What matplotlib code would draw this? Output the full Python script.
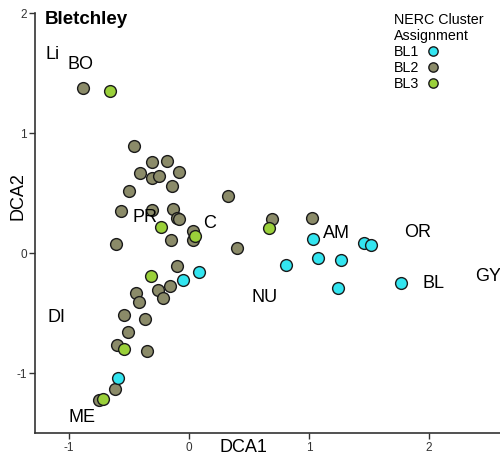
import matplotlib
matplotlib.use("Agg")
import matplotlib.pyplot as plt

plt.rcParams["font.family"] = ["Liberation Sans", "DejaVu Sans"]

# DCA site scores per NERC cluster
bl1_x = [-0.589, -0.053, 0.086, 0.806, 1.031, 1.075, 1.267, 1.242, 1.456, 1.517, 1.764]
bl1_y = [-1.039, -0.222, -0.156, -0.100, 0.114, -0.044, -0.061, -0.292, 0.086, 0.067, -0.250]

bl2_x = [-0.881, -0.456, -0.308, -0.181, -0.408, -0.311, -0.250, -0.086, -0.139, -0.497,
         0.328, -0.569, -0.308, -0.136, -0.103, -0.083, 0.031, -0.153, 0.031, -0.611,
         0.400, -0.103, -0.161, -0.258, -0.214, -0.442, -0.417, -0.539, -0.367, -0.511,
         -0.600, -0.350, -0.619, -0.750, 0.694, 1.025]
bl2_y = [1.375, 0.894, 0.756, 0.769, 0.669, 0.625, 0.639, 0.675, 0.558, 0.514,
         0.478, 0.350, 0.358, 0.367, 0.289, 0.283, 0.181, 0.111, 0.111, 0.072,
         0.042, -0.111, -0.278, -0.306, -0.378, -0.333, -0.408, -0.519, -0.550, -0.658,
         -0.767, -0.814, -1.136, -1.225, 0.283, 0.292]

bl3_x = [-0.658, -0.236, 0.047, -0.319, -0.544, -0.717, 0.667]
bl3_y = [1.353, 0.219, 0.144, -0.192, -0.803, -1.214, 0.206]

# species labels
sp_names = ["Li", "BO", "PR", "C", "AM", "OR", "NU", "BL", "GY", "DI", "ME"]
sp_x = [-1.133, -0.908, -0.367, 0.175, 1.225, 1.908, 0.625, 2.033, 2.49, -1.10, -0.892]
sp_y = [1.658, 1.575, 0.300, 0.250, 0.167, 0.175, -0.367, -0.250, -0.19, -0.533, -1.367]

col1 = "#33e5f0"
col2 = "#8b8b69"
col3 = "#9ad03a"

fig = plt.figure(figsize=(5.0, 4.64), dpi=100)
ax = fig.add_axes([0.07, 0.065, 0.93, 0.905])

mk = dict(s=72, edgecolors="#1a1a1a", linewidths=1.0, zorder=3)
ax.scatter(bl2_x, bl2_y, c=col2, **mk)
ax.scatter(bl3_x, bl3_y, c=col3, **mk)
ax.scatter(bl1_x, bl1_y, c=col1, **mk)

for n, x, y in zip(sp_names, sp_x, sp_y):
    ax.text(x, y, n, fontsize=13, ha="center", va="center", zorder=4)

ax.set_xlim(-1.283, 2.59)
ax.set_ylim(-1.5, 2.0)
ax.set_xticks([-1, 0, 1, 2])
ax.set_yticks([-1, 0, 1, 2])
ax.set_xticklabels(["-1", "0", "1", "2"])
ax.set_yticklabels(["-1", "0", "1", "2"])
ax.tick_params(labelsize=8.5, length=4, width=1, colors="#333333", pad=2)
for s in ["top", "right"]:
    ax.spines[s].set_visible(False)
for s in ["left", "bottom"]:
    ax.spines[s].set_linewidth(1.2)
    ax.spines[s].set_color("#333333")

fig.text(0.486, 0.035, "DCA1", fontsize=13, ha="center", va="center")
fig.text(0.035, 0.578, "DCA2", fontsize=13, ha="center", va="center", rotation=90)
fig.text(0.09, 0.957, "Bletchley", fontsize=13.5, fontweight="bold", ha="left", va="center")

# legend drawn by hand
fig.text(0.788, 0.956, "NERC Cluster", fontsize=10.3, ha="left", va="center")
fig.text(0.788, 0.922, "Assignment", fontsize=10.3, ha="left", va="center")
leg_labels = ["BL1", "BL2", "BL3"]
leg_cols = [col1, col2, col3]
for i, (lab, c) in enumerate(zip(leg_labels, leg_cols)):
    yy = 0.888 - i * 0.034
    fig.text(0.788, yy, lab, fontsize=10.3, ha="left", va="center")
    ax.scatter([0.865], [yy], transform=fig.transFigure, s=45, c=c,
               edgecolors="#1a1a1a", linewidths=1.0, clip_on=False, zorder=5)

fig.savefig("out.png", dpi=100)
